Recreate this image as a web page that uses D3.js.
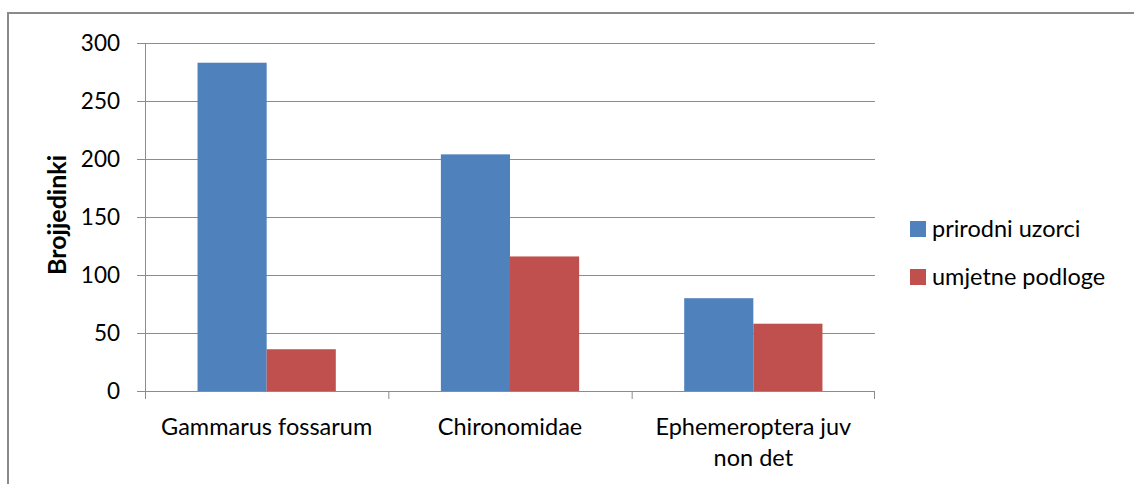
<!DOCTYPE html>
<html>
<head>
<meta charset="utf-8">
<script src="https://cdn.jsdelivr.net/npm/d3@7"></script>
<style>
  body { margin: 0; background: #fff; }
  text { font-family: Lato, "Open Sans", sans-serif; fill: #000; }
</style>
</head>
<body>
<div id="graph"></div>
<script>
const categories = [["Gammarus fossarum"], ["Chironomidae"], ["Ephemeroptera juv", "non det"]];
const seriesNames = ["prirodni uzorci", "umjetne podloge"];
const prirodni = [283, 204, 80];
const umjetne = [36, 116, 58];
const yTicks = [0, 50, 100, 150, 200, 250, 300];
const colors = ["#4F81BD", "#C0504D"];

const width = 1134, height = 484;
const plotLeft = 145, plotRight = 875, plotTop = 43, plotBottom = 391;

const svg = d3.select("#graph")
  .append("svg")
    .attr("width", width)
    .attr("height", height);

// outer chart border
svg.append("rect")
  .attr("x", 8).attr("y", 13)
  .attr("width", width).attr("height", height)
  .attr("fill", "none")
  .attr("stroke", "#8a8a8a")
  .attr("stroke-width", 2);

const y = d3.scaleLinear().domain([0, 300]).range([plotBottom, plotTop]);
const x = d3.scaleBand().domain(d3.range(categories.length)).range([plotLeft, plotRight]);
const xs = d3.scaleBand().domain([0, 1]).range([0, x.bandwidth()]).paddingOuter(0.76).paddingInner(0);

// gridlines
svg.append("g")
  .selectAll("line")
  .data(yTicks)
  .join("line")
    .attr("x1", plotLeft - 8).attr("x2", plotRight)
    .attr("y1", d => Math.round(y(d)) + 0.5)
    .attr("y2", d => Math.round(y(d)) + 0.5)
    .attr("stroke", "#8c8c8c");

// y labels
svg.append("g")
  .selectAll("text")
  .data(yTicks)
  .join("text")
    .attr("x", 120)
    .attr("y", d => y(d))
    .attr("dy", "0.35em")
    .attr("text-anchor", "end")
    .style("font-size", "22.5px")
    .text(d => d);

// bars
const series = [prirodni, umjetne];
series.forEach((vals, s) => {
  svg.append("g")
    .selectAll("rect")
    .data(vals)
    .join("rect")
      .attr("x", (d, i) => x(i) + xs(s))
      .attr("width", xs.bandwidth())
      .attr("y", d => y(d))
      .attr("height", d => y(0) - y(d))
      .attr("fill", colors[s]);
});

// axes lines
svg.append("line")
  .attr("x1", plotLeft + 0.5).attr("x2", plotLeft + 0.5)
  .attr("y1", plotTop).attr("y2", plotBottom + 8)
  .attr("stroke", "#8c8c8c");

svg.append("g")
  .selectAll("line")
  .data(d3.range(categories.length + 1))
  .join("line")
    .attr("x1", i => i < categories.length ? x(i) + 0.5 : plotRight - 0.5)
    .attr("x2", i => i < categories.length ? x(i) + 0.5 : plotRight - 0.5)
    .attr("y1", plotBottom).attr("y2", plotBottom + 8)
    .attr("stroke", "#8c8c8c");

// category labels
svg.append("g")
  .selectAll("text")
  .data(categories)
  .join("text")
    .attr("x", (d, i) => x(i) + x.bandwidth() / 2)
    .attr("y", 435)
    .attr("text-anchor", "middle")
    .style("font-size", "23.5px")
    .each(function(lines) {
      const cx = d3.select(this).attr("x");
      d3.select(this).selectAll("tspan")
        .data(lines)
        .join("tspan")
          .attr("x", cx)
          .attr("dy", (d, j) => j === 0 ? 0 : 31)
          .text(d => d);
    });

// y axis title
svg.append("text")
  .attr("transform", `translate(66, 215) rotate(-90)`)
  .attr("text-anchor", "middle")
  .style("font-size", "25px")
  .style("font-weight", "bold")
  .text("Brojjedinki");

// legend
const legend = svg.append("g")
  .selectAll("g")
  .data(seriesNames)
  .join("g")
    .attr("transform", (d, i) => `translate(910, ${221 + i * 48})`);

legend.append("rect")
  .attr("width", 16).attr("height", 16)
  .attr("fill", (d, i) => colors[i]);

legend.append("text")
  .attr("x", 22).attr("y", 8)
  .attr("dy", "0.35em")
  .style("font-size", "23.5px")
  .text(d => d);
</script>
</body>
</html>
